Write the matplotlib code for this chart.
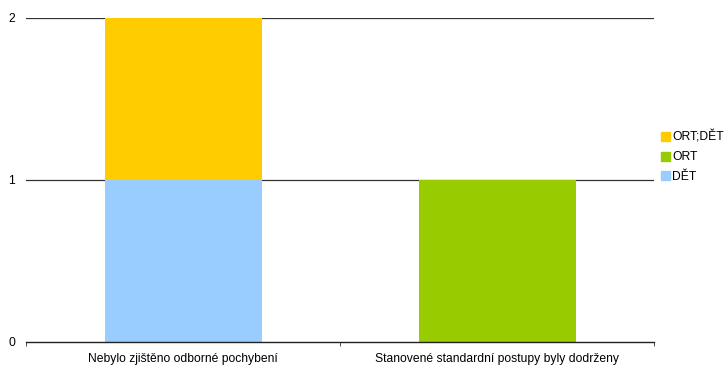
import matplotlib
matplotlib.use("Agg")
import matplotlib.pyplot as plt
from matplotlib.patches import Patch

plt.rcParams['font.family'] = ['Liberation Sans', 'DejaVu Sans']

categories = ["Nebylo zjištěno odborné pochybení", "Stanovené standardní postupy byly dodrženy"]
series_names = ["DĚT", "ORT", "ORT;DĚT"]
series_values = {
    "DĚT": [1, 0],
    "ORT": [0, 1],
    "ORT;DĚT": [1, 0],
}
colors = {"DĚT": "#99CCFF", "ORT": "#99CC00", "ORT;DĚT": "#FFCC00"}
y_ticks = [0, 1, 2]

fig = plt.figure(figsize=(7.24, 3.65), dpi=100)
ax = fig.add_axes([26/724, 1-342/365, (654-26)/724, (342-18)/365])

x = list(range(len(categories)))
bottom = [0]*len(categories)
for name in series_names:
    vals = series_values[name]
    ax.bar(x, vals, width=0.5, bottom=bottom, color=colors[name], zorder=2, linewidth=0)
    bottom = [b+v for b, v in zip(bottom, vals)]

ax.set_xlim(-0.5, len(categories)-0.5)
ax.set_ylim(0, 2)
ax.set_yticks(y_ticks)
ax.set_yticklabels([str(t) for t in y_ticks], fontsize=8.7)
ax.tick_params(axis='y', length=0, pad=8)
for t in y_ticks[1:]:
    ax.axhline(t, color='#333333', linewidth=0.9, zorder=1)

ax.set_xticks(x)
ax.set_xticklabels(categories, fontsize=8.7)
ax.set_xticks([-0.5, 0.5, 1.5], minor=True)
ax.tick_params(axis='x', which='major', length=0, pad=8)
ax.tick_params(axis='x', which='minor', length=3, direction='out', color='#333333')

for s in ['top', 'right', 'left']:
    ax.spines[s].set_visible(False)
ax.spines['bottom'].set_color('#222222')
ax.spines['bottom'].set_linewidth(1.0)

handles = [Patch(color=colors[n]) for n in reversed(series_names)]
fig.legend(handles, list(reversed(series_names)), loc='upper left',
           bbox_to_anchor=(661/724, 1-131/365), frameon=False, fontsize=8.7,
           handlelength=0.75, handleheight=0.75, handletextpad=0.2, labelspacing=0.62,
           borderaxespad=0, borderpad=0)

fig.savefig("out.png", dpi=100)
